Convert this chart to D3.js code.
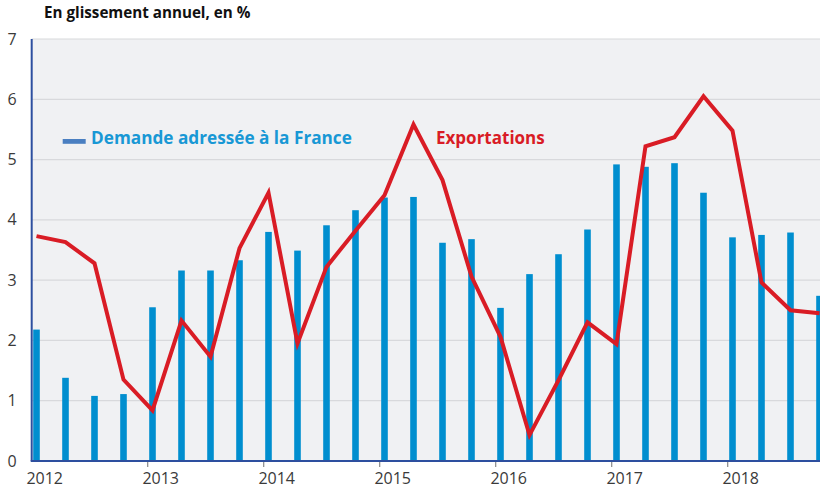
<!DOCTYPE html>
<html lang="fr">
<head>
    <meta charset="UTF-8">
    <title>Demande adressée à la France et exportations</title>
    <script src="https://d3js.org/d3.v7.min.js"></script>
    <style>
        body {
            margin: 0;
            font-family: "Open Sans", Arial, sans-serif;
            background: #fff;
        }
    </style>
</head>
<body>
    <div id="chart"></div>
    <script>
        // quarterly values, 2012T1 -> 2018T4, year-on-year %
        const quarters = ["2012T1","2012T2","2012T3","2012T4","2013T1","2013T2","2013T3","2013T4",
                          "2014T1","2014T2","2014T3","2014T4","2015T1","2015T2","2015T3","2015T4",
                          "2016T1","2016T2","2016T3","2016T4","2017T1","2017T2","2017T3","2017T4",
                          "2018T1","2018T2","2018T3","2018T4"];
        const demande = [2.18, 1.38, 1.08, 1.11, 2.55, 3.16, 3.16, 3.33,
                         3.80, 3.49, 3.91, 4.16, 4.37, 4.38, 3.62, 3.68,
                         2.54, 3.10, 3.43, 3.84, 4.92, 4.88, 4.94, 4.45,
                         3.71, 3.75, 3.79, 2.74];
        const exportations = [3.73, 3.63, 3.28, 1.35, 0.84, 2.33, 1.73, 3.53,
                              4.45, 1.95, 3.22, 3.82, 4.41, 5.58, 4.66, 3.06,
                              2.06, 0.43, 1.34, 2.30, 1.94, 5.22, 5.37, 6.05,
                              5.48, 2.96, 2.50, 2.45];
        const years = [2012, 2013, 2014, 2015, 2016, 2017, 2018];
        const yTicks = [0, 1, 2, 3, 4, 5, 6, 7];

        const width = 820, height = 488;
        const plotLeft = 31.7, plotTop = 39, plotBottom = 461;

        const svg = d3.select("#chart").append("svg")
            .attr("width", width)
            .attr("height", height);

        // time in years (quarter i -> 2012 + i/4)
        const x = d3.scaleLinear().domain([2012, 2019]).range([plotLeft, plotLeft + 7 * 116]);
        const y = d3.scaleLinear().domain([0, 7]).range([plotBottom, plotTop]);
        const qx = i => x(2012 + i / 4);

        // plot background
        svg.append("rect")
            .attr("x", plotLeft)
            .attr("y", plotTop)
            .attr("width", width - plotLeft)
            .attr("height", plotBottom - plotTop)
            .attr("fill", "#f0f1f3");

        // gridlines
        svg.selectAll(".grid")
            .data(yTicks.slice(1))
            .enter().append("line")
            .attr("x1", plotLeft)
            .attr("x2", width)
            .attr("y1", d => y(d))
            .attr("y2", d => y(d))
            .attr("stroke", "#d8d9dc")
            .attr("stroke-width", 1.2);

        // y labels
        svg.selectAll(".ylab")
            .data(yTicks)
            .enter().append("text")
            .attr("x", 12)
            .attr("y", d => y(d) + 5.5)
            .attr("text-anchor", "middle")
            .attr("font-size", "16px")
            .attr("fill", "#3a3a3a")
            .text(d => d);

        // bars
        svg.selectAll(".bar")
            .data(demande)
            .enter().append("rect")
            .attr("x", (d, i) => qx(i) + 1.5)
            .attr("y", d => y(d))
            .attr("width", 6.6)
            .attr("height", d => plotBottom - y(d))
            .attr("fill", "#008ecf");

        // exports line
        const line = d3.line()
            .x((d, i) => qx(i) + 4.8)
            .y(d => y(d));

        svg.append("path")
            .datum(exportations)
            .attr("d", line)
            .attr("fill", "none")
            .attr("stroke", "#d91c25")
            .attr("stroke-width", 4)
            .attr("stroke-linejoin", "miter");

        // axes lines
        svg.append("line")
            .attr("x1", plotLeft).attr("x2", plotLeft)
            .attr("y1", plotTop).attr("y2", plotBottom)
            .attr("stroke", "#2d4f9f").attr("stroke-width", 2);
        svg.append("line")
            .attr("x1", plotLeft - 1).attr("x2", width)
            .attr("y1", plotBottom).attr("y2", plotBottom)
            .attr("stroke", "#2d4f9f").attr("stroke-width", 2);

        // year ticks + labels
        svg.selectAll(".xtick")
            .data(years.slice(1))
            .enter().append("line")
            .attr("x1", d => x(d)).attr("x2", d => x(d))
            .attr("y1", plotBottom + 1).attr("y2", plotBottom + 6)
            .attr("stroke", "#888").attr("stroke-width", 1.2);

        svg.selectAll(".xlab")
            .data(years)
            .enter().append("text")
            .attr("x", d => x(d) + 13)
            .attr("y", 484)
            .attr("text-anchor", "middle")
            .attr("font-size", "16px")
            .attr("fill", "#3a3a3a")
            .text(d => d);

        // title
        svg.append("text")
            .attr("x", 44)
            .attr("y", 18)
            .attr("font-size", "15.2px")
            .attr("font-weight", "bold")
            .attr("fill", "#111")
            .text("En glissement annuel, en %");

        // legend
        svg.append("rect")
            .attr("x", 62.7).attr("y", 139)
            .attr("width", 23).attr("height", 4.8)
            .attr("fill", "#4a7fc1");
        svg.append("text")
            .attr("x", 91).attr("y", 144)
            .attr("font-size", "17.2px")
            .attr("font-weight", "bold")
            .attr("fill", "#1898d5")
            .text("Demande adressée à la France");
        svg.append("text")
            .attr("x", 436).attr("y", 144)
            .attr("font-size", "17px")
            .attr("font-weight", "bold")
            .attr("fill", "#d91c25")
            .text("Exportations");
    </script>
</body>
</html>
